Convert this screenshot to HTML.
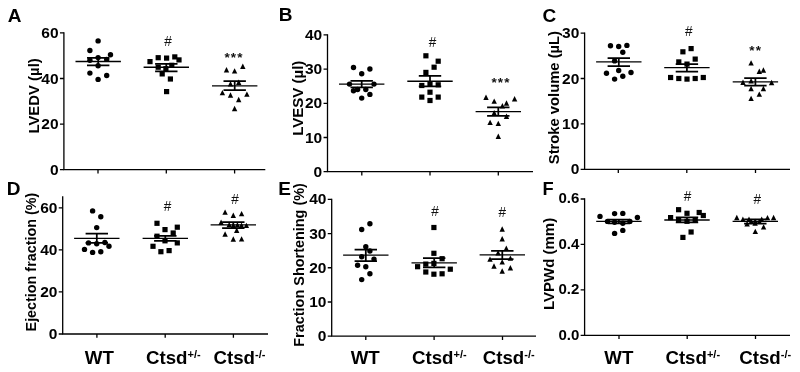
<!DOCTYPE html>
<html lang="en">
<head>
<meta charset="utf-8">
<title>Echocardiography scatter plots</title>
<style>
html,body{margin:0;padding:0;background:#fff;}
body{width:800px;height:372px;overflow:hidden;}
svg{display:block;font-family:'Liberation Sans', Arial, sans-serif;fill:#000;}
</style>
</head>
<body>
<svg width="800" height="372" viewBox="0 0 800 372">
<rect x="0" y="0" width="800" height="372" fill="#fff"/>
<g>
<path d="M63.9 32.25V169.7H265.3" fill="none" stroke="#000" stroke-width="1.3" stroke-linejoin="miter"/>
<text x="58.6" y="174.7" text-anchor="end" font-size="15.5" font-weight="bold">0</text>
<text x="58.6" y="129.1" text-anchor="end" font-size="15.5" font-weight="bold">20</text>
<text x="58.6" y="83.5" text-anchor="end" font-size="15.5" font-weight="bold">40</text>
<text x="58.6" y="37.9" text-anchor="end" font-size="15.5" font-weight="bold">60</text>
<path d="M59.95 169.7H63.9M59.95 124.1H63.9M59.95 78.5H63.9M59.95 32.9H63.9M98 169.7V173.5M166.3 169.7V173.5M234.6 169.7V173.5" fill="none" stroke="#000" stroke-width="1.3"/>
<text transform="translate(39.2 95.9) rotate(-90)" text-anchor="middle" font-size="14.9" font-weight="bold">LVEDV (µl)</text>
<text x="7.7" y="21.6" font-size="19.0" font-weight="bold">A</text>
<circle cx="98.1" cy="40.9" r="2.7"/>
<circle cx="89.9" cy="50.5" r="2.7"/>
<circle cx="110.5" cy="54.8" r="2.7"/>
<circle cx="98.1" cy="57.6" r="2.7"/>
<circle cx="89.9" cy="60.2" r="2.7"/>
<circle cx="106.7" cy="59.4" r="2.7"/>
<circle cx="98.1" cy="65.8" r="2.7"/>
<circle cx="89.9" cy="73.1" r="2.7"/>
<circle cx="106.7" cy="75.5" r="2.7"/>
<circle cx="98.1" cy="79.4" r="2.7"/>
<path d="M75.5 61.5H120.9" fill="none" stroke="#000" stroke-width="1.35"/>
<path d="M87 57.8H109.4M87 65.3H109.4M98.2 57.8V65.3" fill="none" stroke="#000" stroke-width="1.75"/>
<rect x="147.4" y="59" width="5.2" height="5.2"/>
<rect x="155.6" y="55.1" width="5.2" height="5.2"/>
<rect x="164" y="55.5" width="5.2" height="5.2"/>
<rect x="172.2" y="54.3" width="5.2" height="5.2"/>
<rect x="176.4" y="57.3" width="5.2" height="5.2"/>
<rect x="155.6" y="64.6" width="5.2" height="5.2"/>
<rect x="169.2" y="62.7" width="5.2" height="5.2"/>
<rect x="163.3" y="66.1" width="5.2" height="5.2"/>
<rect x="159.6" y="71.3" width="5.2" height="5.2"/>
<rect x="167.8" y="76.4" width="5.2" height="5.2"/>
<rect x="164" y="89" width="5.2" height="5.2"/>
<path d="M143.6 67.2H189" fill="none" stroke="#000" stroke-width="1.35"/>
<path d="M155.1 63.9H177.5M155.1 71.3H177.5M166.3 63.9V71.3" fill="none" stroke="#000" stroke-width="1.75"/>
<path d="M223.8 72.5H229.2L226.5 67.1Z"/>
<path d="M231.9 73.6H237.3L234.6 68.2Z"/>
<path d="M240.1 69H245.5L242.8 63.6Z"/>
<path d="M227.8 86.5H233.2L230.5 81.1Z"/>
<path d="M236 85H241.4L238.7 79.6Z"/>
<path d="M219.7 95.3H225.1L222.4 89.9Z"/>
<path d="M227.8 97.7H233.2L230.5 92.3Z"/>
<path d="M244.2 96.8H249.6L246.9 91.4Z"/>
<path d="M236 102.2H241.4L238.7 96.8Z"/>
<path d="M231.9 111.2H237.3L234.6 105.8Z"/>
<path d="M212 85.9H257.4" fill="none" stroke="#000" stroke-width="1.35"/>
<path d="M223.5 81.2H245.9M223.5 90.2H245.9M234.7 81.2V90.2" fill="none" stroke="#000" stroke-width="1.75"/>
<text transform="translate(168 46.3) scale(0.9 1)" text-anchor="middle" font-size="15.1" fill="#111">#</text>
<text x="234" y="61.7" text-anchor="middle" font-size="13.5" font-weight="bold" letter-spacing="1.1" fill="#111">***</text>
</g>
<g>
<path d="M327.5 34.25V171.7H533" fill="none" stroke="#000" stroke-width="1.3" stroke-linejoin="miter"/>
<text x="322.2" y="176.7" text-anchor="end" font-size="15.5" font-weight="bold">0</text>
<text x="322.2" y="142.5" text-anchor="end" font-size="15.5" font-weight="bold">10</text>
<text x="322.2" y="108.3" text-anchor="end" font-size="15.5" font-weight="bold">20</text>
<text x="322.2" y="74.1" text-anchor="end" font-size="15.5" font-weight="bold">30</text>
<text x="322.2" y="39.9" text-anchor="end" font-size="15.5" font-weight="bold">40</text>
<path d="M323.55 171.7H327.5M323.55 137.5H327.5M323.55 103.3H327.5M323.55 69.1H327.5M323.55 34.9H327.5M361.8 171.7V175.5M430 171.7V175.5M498.3 171.7V175.5" fill="none" stroke="#000" stroke-width="1.3"/>
<text transform="translate(303 98.2) rotate(-90)" text-anchor="middle" font-size="15.0" font-weight="bold">LVESV (µl)</text>
<text x="278.8" y="21.2" font-size="19.0" font-weight="bold">B</text>
<circle cx="353.5" cy="67.5" r="2.7"/>
<circle cx="369.9" cy="69" r="2.7"/>
<circle cx="361.7" cy="73.8" r="2.7"/>
<circle cx="349.5" cy="84.1" r="2.7"/>
<circle cx="374" cy="84.1" r="2.7"/>
<circle cx="353.5" cy="90.8" r="2.7"/>
<circle cx="357.6" cy="89.5" r="2.7"/>
<circle cx="365.8" cy="89.5" r="2.7"/>
<circle cx="369.9" cy="94.4" r="2.7"/>
<circle cx="361.7" cy="98.1" r="2.7"/>
<path d="M339 84.1H384.4" fill="none" stroke="#000" stroke-width="1.35"/>
<path d="M350.5 80.9H372.9M350.5 87.3H372.9M361.7 80.9V87.3" fill="none" stroke="#000" stroke-width="1.75"/>
<rect x="423.3" y="53.2" width="5.2" height="5.2"/>
<rect x="435.6" y="58.6" width="5.2" height="5.2"/>
<rect x="431.5" y="64.6" width="5.2" height="5.2"/>
<rect x="423.3" y="69.8" width="5.2" height="5.2"/>
<rect x="419.2" y="82.9" width="5.2" height="5.2"/>
<rect x="435.6" y="82.2" width="5.2" height="5.2"/>
<rect x="427.4" y="81.2" width="5.2" height="5.2"/>
<rect x="427.4" y="89.6" width="5.2" height="5.2"/>
<rect x="419.2" y="94.5" width="5.2" height="5.2"/>
<rect x="435.6" y="94.5" width="5.2" height="5.2"/>
<rect x="427.4" y="97.9" width="5.2" height="5.2"/>
<path d="M407.3 81.2H452.7" fill="none" stroke="#000" stroke-width="1.35"/>
<path d="M418.8 75.8H441.2M418.8 86.3H441.2M430 75.8V86.3" fill="none" stroke="#000" stroke-width="1.75"/>
<path d="M483.3 99.9H488.7L486 94.5Z"/>
<path d="M491.5 103.8H496.9L494.2 98.4Z"/>
<path d="M511.9 101.4H517.3L514.6 96Z"/>
<path d="M503.8 105.7H509.2L506.5 100.3Z"/>
<path d="M499.7 108.5H505.1L502.4 103.1Z"/>
<path d="M491.5 115.4H496.9L494.2 110Z"/>
<path d="M503.8 119H509.2L506.5 113.6Z"/>
<path d="M487.4 125.1H492.8L490.1 119.7Z"/>
<path d="M495.6 126.1H501L498.3 120.7Z"/>
<path d="M495.6 139H501L498.3 133.6Z"/>
<path d="M475.6 111.6H521" fill="none" stroke="#000" stroke-width="1.35"/>
<path d="M487.1 107.3H509.5M487.1 115.9H509.5M498.3 107.3V115.9" fill="none" stroke="#000" stroke-width="1.75"/>
<text transform="translate(432.6 47) scale(0.9 1)" text-anchor="middle" font-size="15.1" fill="#111">#</text>
<text x="501" y="87.1" text-anchor="middle" font-size="13.5" font-weight="bold" letter-spacing="1.1" fill="#111">***</text>
</g>
<g>
<path d="M584.6 32.45V169.3H790" fill="none" stroke="#000" stroke-width="1.3" stroke-linejoin="miter"/>
<text x="579.3" y="174.3" text-anchor="end" font-size="15.5" font-weight="bold">0</text>
<text x="579.3" y="128.9" text-anchor="end" font-size="15.5" font-weight="bold">10</text>
<text x="579.3" y="83.5" text-anchor="end" font-size="15.5" font-weight="bold">20</text>
<text x="579.3" y="38.1" text-anchor="end" font-size="15.5" font-weight="bold">30</text>
<path d="M580.65 169.3H584.6M580.65 123.9H584.6M580.65 78.5H584.6M580.65 33.1H584.6M618.3 169.3V173.1M686.8 169.3V173.1M755.5 169.3V173.1" fill="none" stroke="#000" stroke-width="1.3"/>
<text transform="translate(559.4 97.6) rotate(-90)" text-anchor="middle" font-size="14.78" font-weight="bold">Stroke volume (µL)</text>
<text x="542.5" y="21.8" font-size="19.0" font-weight="bold">C</text>
<circle cx="610.5" cy="45.8" r="2.7"/>
<circle cx="618.7" cy="46.5" r="2.7"/>
<circle cx="626.9" cy="45.4" r="2.7"/>
<circle cx="622.8" cy="52.3" r="2.7"/>
<circle cx="614.6" cy="60.9" r="2.7"/>
<circle cx="618.7" cy="70.5" r="2.7"/>
<circle cx="606.5" cy="73.3" r="2.7"/>
<circle cx="631" cy="72.5" r="2.7"/>
<circle cx="622.8" cy="76.3" r="2.7"/>
<circle cx="614.6" cy="79.1" r="2.7"/>
<path d="M596.1 61.9H641.5" fill="none" stroke="#000" stroke-width="1.35"/>
<path d="M607.6 58.1H630M607.6 66.2H630M618.8 58.1V66.2" fill="none" stroke="#000" stroke-width="1.75"/>
<rect x="680.3" y="49.2" width="5.2" height="5.2"/>
<rect x="688.5" y="46" width="5.2" height="5.2"/>
<rect x="692.6" y="56.5" width="5.2" height="5.2"/>
<rect x="676.2" y="59.3" width="5.2" height="5.2"/>
<rect x="684.4" y="61.5" width="5.2" height="5.2"/>
<rect x="668" y="74.9" width="5.2" height="5.2"/>
<rect x="676.2" y="75.9" width="5.2" height="5.2"/>
<rect x="684.4" y="76.5" width="5.2" height="5.2"/>
<rect x="692.6" y="75.9" width="5.2" height="5.2"/>
<rect x="700.7" y="74.9" width="5.2" height="5.2"/>
<path d="M664.2 67.6H709.6" fill="none" stroke="#000" stroke-width="1.35"/>
<path d="M675.7 64.2H698.1M675.7 71.7H698.1M686.9 64.2V71.7" fill="none" stroke="#000" stroke-width="1.75"/>
<path d="M748.4 65.6H753.8L751.1 60.2Z"/>
<path d="M756.6 74H762L759.3 68.6Z"/>
<path d="M760.7 72.7H766.1L763.4 67.3Z"/>
<path d="M740.3 85H745.7L743 79.6Z"/>
<path d="M768.9 85.2H774.3L771.6 79.8Z"/>
<path d="M748.4 83.5H753.8L751.1 78.1Z"/>
<path d="M748.4 91.2H753.8L751.1 85.8Z"/>
<path d="M760.7 91.2H766.1L763.4 85.8Z"/>
<path d="M756.6 96.8H762L759.3 91.4Z"/>
<path d="M748.4 101.1H753.8L751.1 95.7Z"/>
<path d="M732.7 81.9H778.1" fill="none" stroke="#000" stroke-width="1.35"/>
<path d="M744.2 78H766.6M744.2 85.6H766.6M755.4 78V85.6" fill="none" stroke="#000" stroke-width="1.75"/>
<text transform="translate(688.9 36.4) scale(0.9 1)" text-anchor="middle" font-size="15.1" fill="#111">#</text>
<text x="755.7" y="55" text-anchor="middle" font-size="13.5" font-weight="bold" letter-spacing="1.1" fill="#111">**</text>
</g>
<g>
<path d="M62.7 196.15V334H268" fill="none" stroke="#000" stroke-width="1.3" stroke-linejoin="miter"/>
<text x="57.4" y="339" text-anchor="end" font-size="15.5" font-weight="bold">0</text>
<text x="57.4" y="296.97" text-anchor="end" font-size="15.5" font-weight="bold">20</text>
<text x="57.4" y="254.93" text-anchor="end" font-size="15.5" font-weight="bold">40</text>
<text x="57.4" y="212.9" text-anchor="end" font-size="15.5" font-weight="bold">60</text>
<path d="M58.75 334H62.7M58.75 291.97H62.7M58.75 249.93H62.7M58.75 207.9H62.7M96.9 334V337.8M165.2 334V337.8M233.4 334V337.8" fill="none" stroke="#000" stroke-width="1.3"/>
<text transform="translate(36.4 262.1) rotate(-90)" text-anchor="middle" font-size="14.35" font-weight="bold">Ejection fraction (%)</text>
<text x="6.8" y="194.8" font-size="19.0" font-weight="bold">D</text>
<circle cx="92.6" cy="210.9" r="2.7"/>
<circle cx="100.8" cy="216.7" r="2.7"/>
<circle cx="96.7" cy="227.6" r="2.7"/>
<circle cx="88.5" cy="242.9" r="2.7"/>
<circle cx="96.7" cy="243.8" r="2.7"/>
<circle cx="104.9" cy="242.5" r="2.7"/>
<circle cx="109" cy="246.3" r="2.7"/>
<circle cx="84.5" cy="249.4" r="2.7"/>
<circle cx="92.6" cy="252.4" r="2.7"/>
<circle cx="100.8" cy="251.7" r="2.7"/>
<path d="M74.1 238.4H119.5" fill="none" stroke="#000" stroke-width="1.35"/>
<path d="M85.6 233.7H108M85.6 242.9H108M96.8 233.7V242.9" fill="none" stroke="#000" stroke-width="1.75"/>
<rect x="154.4" y="220.7" width="5.2" height="5.2"/>
<rect x="174.7" y="224.6" width="5.2" height="5.2"/>
<rect x="162.4" y="227" width="5.2" height="5.2"/>
<rect x="170.6" y="230.4" width="5.2" height="5.2"/>
<rect x="154.4" y="233.6" width="5.2" height="5.2"/>
<rect x="162.4" y="238.2" width="5.2" height="5.2"/>
<rect x="174.7" y="240.3" width="5.2" height="5.2"/>
<rect x="150.4" y="243.7" width="5.2" height="5.2"/>
<rect x="166.5" y="248" width="5.2" height="5.2"/>
<rect x="158.3" y="249.1" width="5.2" height="5.2"/>
<path d="M142.6 238.4H188" fill="none" stroke="#000" stroke-width="1.35"/>
<path d="M154.1 235.8H176.5M154.1 240.8H176.5M165.3 235.8V240.8" fill="none" stroke="#000" stroke-width="1.75"/>
<path d="M222.4 214.8H227.8L225.1 209.4Z"/>
<path d="M230.6 217.9H236L233.3 212.5Z"/>
<path d="M238.9 216.3H244.3L241.6 210.9Z"/>
<path d="M218.4 224.9H223.8L221.1 219.5Z"/>
<path d="M243.7 228.1H249.1L246.4 222.7Z"/>
<path d="M226.5 227.3H231.9L229.2 221.9Z"/>
<path d="M230.6 227.9H236L233.3 222.5Z"/>
<path d="M234.7 227.5H240.1L237.4 222.1Z"/>
<path d="M238.8 227.9H244.2L241.5 222.5Z"/>
<path d="M234 232.9H239.4L236.7 227.5Z"/>
<path d="M222.4 236.7H227.8L225.1 231.3Z"/>
<path d="M230.6 241.7H236L233.3 236.3Z"/>
<path d="M238.9 241.6H244.3L241.6 236.2Z"/>
<path d="M210.6 224.9H256" fill="none" stroke="#000" stroke-width="1.35"/>
<path d="M222.1 222H244.5M222.1 228.2H244.5M233.3 222V228.2" fill="none" stroke="#000" stroke-width="1.75"/>
<text transform="translate(167.6 210.9) scale(0.9 1)" text-anchor="middle" font-size="15.1" fill="#111">#</text>
<text transform="translate(235 204.1) scale(0.9 1)" text-anchor="middle" font-size="15.1" fill="#111">#</text>
<text x="99.3" y="363.5" text-anchor="middle" font-size="18.7" font-weight="bold">WT</text>
<text x="146" y="363.5" font-size="18.7" font-weight="bold">Ctsd<tspan font-size="11.0" dy="-5.6">+/-</tspan></text>
<text x="213.5" y="363.5" font-size="18.7" font-weight="bold">Ctsd<tspan font-size="11.0" dy="-5.6">-/-</tspan></text>
</g>
<g>
<path d="M331.7 198.65V336.2H536" fill="none" stroke="#000" stroke-width="1.3" stroke-linejoin="miter"/>
<text x="326.4" y="341.2" text-anchor="end" font-size="15.5" font-weight="bold">0</text>
<text x="326.4" y="306.98" text-anchor="end" font-size="15.5" font-weight="bold">10</text>
<text x="326.4" y="272.75" text-anchor="end" font-size="15.5" font-weight="bold">20</text>
<text x="326.4" y="238.53" text-anchor="end" font-size="15.5" font-weight="bold">30</text>
<text x="326.4" y="204.3" text-anchor="end" font-size="15.5" font-weight="bold">40</text>
<path d="M327.75 336.2H331.7M327.75 301.98H331.7M327.75 267.75H331.7M327.75 233.53H331.7M327.75 199.3H331.7M365.8 336.2V340M434.1 336.2V340M502.5 336.2V340" fill="none" stroke="#000" stroke-width="1.3"/>
<text transform="translate(304.4 264.9) rotate(-90)" text-anchor="middle" font-size="14.45" font-weight="bold">Fraction Shortening (%)</text>
<text x="278.3" y="194.6" font-size="19.0" font-weight="bold">E</text>
<circle cx="369.9" cy="223.7" r="2.7"/>
<circle cx="361.7" cy="229.5" r="2.7"/>
<circle cx="365.8" cy="246.7" r="2.7"/>
<circle cx="369.9" cy="251" r="2.7"/>
<circle cx="361.7" cy="256.8" r="2.7"/>
<circle cx="374" cy="259.1" r="2.7"/>
<circle cx="357.6" cy="265.2" r="2.7"/>
<circle cx="365.8" cy="266.7" r="2.7"/>
<circle cx="369.9" cy="273.8" r="2.7"/>
<circle cx="361.7" cy="279.6" r="2.7"/>
<path d="M343.1 255.1H388.5" fill="none" stroke="#000" stroke-width="1.35"/>
<path d="M354.6 249.5H377M354.6 261.1H377M365.8 249.5V261.1" fill="none" stroke="#000" stroke-width="1.75"/>
<rect x="431.3" y="224.9" width="5.2" height="5.2"/>
<rect x="431.3" y="250.7" width="5.2" height="5.2"/>
<rect x="439.5" y="256.1" width="5.2" height="5.2"/>
<rect x="423.2" y="261.5" width="5.2" height="5.2"/>
<rect x="431.3" y="260.8" width="5.2" height="5.2"/>
<rect x="415" y="264.1" width="5.2" height="5.2"/>
<rect x="447.7" y="266.6" width="5.2" height="5.2"/>
<rect x="423.2" y="269.4" width="5.2" height="5.2"/>
<rect x="431.3" y="271.6" width="5.2" height="5.2"/>
<rect x="439.5" y="271.2" width="5.2" height="5.2"/>
<path d="M411.5 262.8H456.9" fill="none" stroke="#000" stroke-width="1.35"/>
<path d="M423 258.1H445.4M423 267.3H445.4M434.2 258.1V267.3" fill="none" stroke="#000" stroke-width="1.75"/>
<path d="M499.5 231.7H504.9L502.2 226.3Z"/>
<path d="M499.5 241.4H504.9L502.2 236Z"/>
<path d="M503.6 250.9H509L506.3 245.5Z"/>
<path d="M495.4 255.4H500.8L498.1 250Z"/>
<path d="M487.3 261.8H492.7L490 256.4Z"/>
<path d="M507.7 260.8H513.1L510.4 255.4Z"/>
<path d="M499.5 264.6H504.9L502.2 259.2Z"/>
<path d="M491.3 268.7H496.7L494 263.3Z"/>
<path d="M507.7 270.4H513.1L510.4 265Z"/>
<path d="M499.5 273.7H504.9L502.2 268.3Z"/>
<path d="M479.6 254.8H525" fill="none" stroke="#000" stroke-width="1.35"/>
<path d="M491.1 250.8H513.5M491.1 259.1H513.5M502.3 250.8V259.1" fill="none" stroke="#000" stroke-width="1.75"/>
<text transform="translate(435 216) scale(0.9 1)" text-anchor="middle" font-size="15.1" fill="#111">#</text>
<text transform="translate(502.2 217) scale(0.9 1)" text-anchor="middle" font-size="15.1" fill="#111">#</text>
<text x="365.2" y="363.5" text-anchor="middle" font-size="18.7" font-weight="bold">WT</text>
<text x="412" y="363.5" font-size="18.7" font-weight="bold">Ctsd<tspan font-size="11.0" dy="-5.6">+/-</tspan></text>
<text x="482.7" y="363.5" font-size="18.7" font-weight="bold">Ctsd<tspan font-size="11.0" dy="-5.6">-/-</tspan></text>
</g>
<g>
<path d="M584.6 198.35V335.3H790" fill="none" stroke="#000" stroke-width="1.3" stroke-linejoin="miter"/>
<text x="579.3" y="339.7" text-anchor="end" font-size="15.0" font-weight="bold">0.0</text>
<text x="579.3" y="294.27" text-anchor="end" font-size="15.0" font-weight="bold">0.2</text>
<text x="579.3" y="248.83" text-anchor="end" font-size="15.0" font-weight="bold">0.4</text>
<text x="579.3" y="203.4" text-anchor="end" font-size="15.0" font-weight="bold">0.6</text>
<path d="M580.65 335.3H584.6M580.65 289.87H584.6M580.65 244.43H584.6M580.65 199H584.6M619 335.3V339.1M687.2 335.3V339.1M755.5 335.3V339.1" fill="none" stroke="#000" stroke-width="1.3"/>
<text transform="translate(553.5 263.9) rotate(-90)" text-anchor="middle" font-size="15.0" font-weight="bold">LVPWd (mm)</text>
<text x="542.5" y="195" font-size="18.3" font-weight="bold">F</text>
<circle cx="600" cy="216.4" r="2.7"/>
<circle cx="614.6" cy="213.6" r="2.7"/>
<circle cx="622.8" cy="213.4" r="2.7"/>
<circle cx="637.4" cy="217.5" r="2.7"/>
<circle cx="607.5" cy="221.4" r="2.7"/>
<circle cx="614.6" cy="222.3" r="2.7"/>
<circle cx="622.8" cy="223.3" r="2.7"/>
<circle cx="629.9" cy="221.4" r="2.7"/>
<circle cx="622.8" cy="230.4" r="2.7"/>
<circle cx="614.6" cy="233.4" r="2.7"/>
<path d="M596.2 221.4H641.6" fill="none" stroke="#000" stroke-width="1.35"/>
<path d="M607.7 219.7H630.1M607.7 223.3H630.1M618.9 219.7V223.3" fill="none" stroke="#000" stroke-width="1.75"/>
<rect x="676" y="207.1" width="5.2" height="5.2"/>
<rect x="684.4" y="210.7" width="5.2" height="5.2"/>
<rect x="696.6" y="209.9" width="5.2" height="5.2"/>
<rect x="700.7" y="212.9" width="5.2" height="5.2"/>
<rect x="668" y="215" width="5.2" height="5.2"/>
<rect x="676" y="217.2" width="5.2" height="5.2"/>
<rect x="684.4" y="218.7" width="5.2" height="5.2"/>
<rect x="692.6" y="217.2" width="5.2" height="5.2"/>
<rect x="688.5" y="229.4" width="5.2" height="5.2"/>
<rect x="680.3" y="234.8" width="5.2" height="5.2"/>
<path d="M664.3 220H709.7" fill="none" stroke="#000" stroke-width="1.35"/>
<path d="M675.8 217.4H698.2M675.8 222.4H698.2M687 217.4V222.4" fill="none" stroke="#000" stroke-width="1.75"/>
<path d="M734.1 220.2H739.5L736.8 214.8Z"/>
<path d="M740.2 222H745.6L742.9 216.6Z"/>
<path d="M746.3 222H751.7L749 216.6Z"/>
<path d="M752.5 224.1H757.9L755.2 218.7Z"/>
<path d="M748.5 224.1H753.9L751.2 218.7Z"/>
<path d="M756.6 224.1H762L759.3 218.7Z"/>
<path d="M759 222H764.4L761.7 216.6Z"/>
<path d="M764.8 220.3H770.2L767.5 214.9Z"/>
<path d="M770.9 220.2H776.3L773.6 214.8Z"/>
<path d="M744.4 226.5H749.8L747.1 221.1Z"/>
<path d="M752.4 225.7H757.8L755.1 220.3Z"/>
<path d="M760.9 229.6H766.3L763.6 224.2Z"/>
<path d="M752.6 234.1H758L755.3 228.7Z"/>
<path d="M732.6 221.3H778" fill="none" stroke="#000" stroke-width="1.35"/>
<path d="M744.1 219.4H766.5M744.1 223.5H766.5M755.3 219.4V223.5" fill="none" stroke="#000" stroke-width="1.75"/>
<text transform="translate(687.6 200.7) scale(0.9 1)" text-anchor="middle" font-size="15.1" fill="#111">#</text>
<text transform="translate(757.4 204.1) scale(0.9 1)" text-anchor="middle" font-size="15.1" fill="#111">#</text>
<text x="618.9" y="363.5" text-anchor="middle" font-size="18.7" font-weight="bold">WT</text>
<text x="665.4" y="363.5" font-size="18.7" font-weight="bold">Ctsd<tspan font-size="11.0" dy="-5.6">+/-</tspan></text>
<text x="739.2" y="363.5" font-size="18.7" font-weight="bold">Ctsd<tspan font-size="11.0" dy="-5.6">-/-</tspan></text>
</g>
</svg>
</body>
</html>
